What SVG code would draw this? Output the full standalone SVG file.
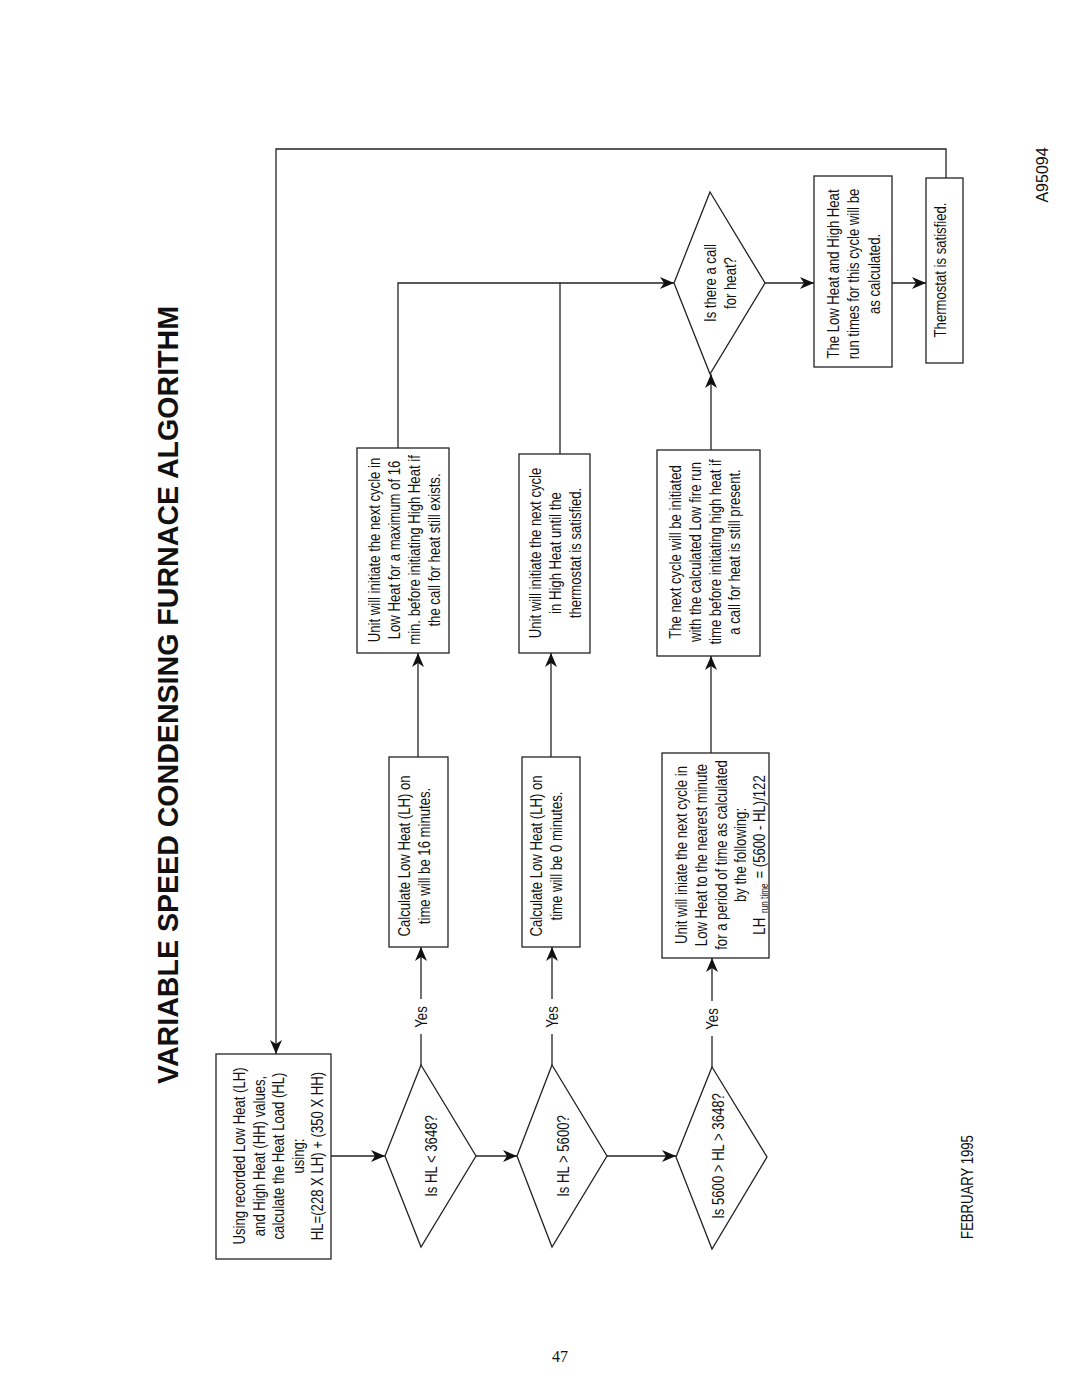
<svg xmlns="http://www.w3.org/2000/svg" width="1080" height="1397" viewBox="0 0 1080 1397">
<style>
.box{fill:#fff;stroke:#222;stroke-width:1.3}
.ln{fill:none;stroke:#222;stroke-width:1.3}
.t{font-family:"Liberation Sans",Arial,sans-serif;font-size:16px;fill:#111;text-anchor:middle}
.title{font-family:"Liberation Sans",Arial,sans-serif;font-size:30px;font-weight:bold;fill:#111;text-anchor:middle}
.pg{font-family:"Liberation Serif","Times New Roman",serif;font-size:16px;fill:#111;text-anchor:middle}
</style>
<defs>
<marker id="ah" markerUnits="userSpaceOnUse" markerWidth="14" markerHeight="12" refX="14" refY="6" orient="auto">
<path d="M0,0 L14,6 L0,12 L4,6 z" fill="#111"/>
</marker>
</defs>
<rect width="1080" height="1397" fill="#fff"/>

<text class="title" transform="translate(178,695) rotate(-90)" x="0" y="0" textLength="778" lengthAdjust="spacingAndGlyphs">VARIABLE SPEED CONDENSING FURNACE ALGORITHM</text>

<g id="connectors">
<polyline class="ln" points="946,178 946,149 276,149 276,1054" marker-end="url(#ah)"/>
<line class="ln" x1="331" y1="1156" x2="385" y2="1156" marker-end="url(#ah)"/>
<line class="ln" x1="476" y1="1156" x2="517" y2="1156" marker-end="url(#ah)"/>
<line class="ln" x1="607" y1="1156" x2="676" y2="1156" marker-end="url(#ah)"/>
<line class="ln" x1="421" y1="1065" x2="421" y2="1034"/>
<line class="ln" x1="421" y1="999" x2="421" y2="947" marker-end="url(#ah)"/>
<line class="ln" x1="552" y1="1065" x2="552" y2="1034"/>
<line class="ln" x1="552" y1="999" x2="552" y2="947" marker-end="url(#ah)"/>
<line class="ln" x1="712" y1="1067" x2="712" y2="1036"/>
<line class="ln" x1="712" y1="1001" x2="712" y2="958" marker-end="url(#ah)"/>
<line class="ln" x1="418" y1="757" x2="418" y2="653" marker-end="url(#ah)"/>
<line class="ln" x1="551" y1="757" x2="551" y2="653" marker-end="url(#ah)"/>
<line class="ln" x1="711" y1="753" x2="711" y2="656" marker-end="url(#ah)"/>
<polyline class="ln" points="398,448 398,283 674,283" marker-end="url(#ah)"/>
<line class="ln" x1="560" y1="454" x2="560" y2="283"/>
<line class="ln" x1="711" y1="450" x2="711" y2="374" marker-end="url(#ah)"/>
<line class="ln" x1="765" y1="283" x2="814" y2="283" marker-end="url(#ah)"/>
<line class="ln" x1="892" y1="283" x2="926" y2="283" marker-end="url(#ah)"/>
<text class="t" transform="translate(0,1017) rotate(-90) scale(0.82,1)" x="0" y="427">Yes</text>
<text class="t" transform="translate(0,1017) rotate(-90) scale(0.82,1)" x="0" y="558">Yes</text>
<text class="t" transform="translate(0,1019) rotate(-90) scale(0.82,1)" x="0" y="718">Yes</text>
</g>

<g id="n-start">
<rect class="box" x="216" y="1054" width="115" height="205"/>
<g transform="translate(0,1156) rotate(-90) scale(0.82,1)">
<text class="t" x="0" y="245.5">Using recorded Low Heat (LH)</text>
<text class="t" x="0" y="265">and High Heat (HH) values,</text>
<text class="t" x="0" y="284.5">calculate the Heat Load (HL)</text>
<text class="t" x="0" y="304">using:</text>
<text class="t" x="0" y="323.5">HL=(228 X LH) + (350 X HH)</text>
</g>
</g>

<g id="n-d1">
<polygon class="box" points="421,1065 476,1156 421,1247 385,1156"/>
<text class="t" transform="translate(0,1156) rotate(-90) scale(0.82,1)" x="0" y="437">Is HL &lt; 3648?</text>
</g>

<g id="n-d2">
<polygon class="box" points="552,1065 607,1156 552,1247 517,1156"/>
<text class="t" transform="translate(0,1156) rotate(-90) scale(0.82,1)" x="0" y="569">Is HL &gt; 5600?</text>
</g>

<g id="n-d3">
<polygon class="box" points="712,1067 767,1157 712,1249 676,1157"/>
<text class="t" transform="translate(0,1156) rotate(-90) scale(0.82,1)" x="0" y="724">Is 5600 &gt; HL &gt; 3648?</text>
</g>

<g id="n-calc16">
<rect class="box" x="389" y="757" width="59" height="190"/>
<g transform="translate(0,856) rotate(-90) scale(0.82,1)">
<text class="t" x="0" y="410.5">Calculate Low Heat (LH) on</text>
<text class="t" x="0" y="430.5">time will be 16 minutes.</text>
</g>
</g>

<g id="n-calc0">
<rect class="box" x="522" y="757" width="58" height="190"/>
<g transform="translate(0,856) rotate(-90) scale(0.82,1)">
<text class="t" x="0" y="542.5">Calculate Low Heat (LH) on</text>
<text class="t" x="0" y="562.5">time will be 0 minutes.</text>
</g>
</g>

<g id="n-calcrun">
<rect class="box" x="662" y="753" width="107" height="205"/>
<g transform="translate(0,855) rotate(-90) scale(0.82,1)">
<text class="t" x="0" y="687">Unit will iniate the next cycle in</text>
<text class="t" x="0" y="707">Low Heat to the nearest minute</text>
<text class="t" x="0" y="727">for a period of time as calculated</text>
<text class="t" x="0" y="746">by the following:</text>
<text class="t" x="0" y="765" font-size="17">LH<tspan font-size="10" dx="6" dy="3">run time</tspan><tspan dx="6" dy="-3">= (5600 - HL)/122</tspan></text>
</g>
</g>

<g id="n-low16">
<rect class="box" x="357" y="448" width="92" height="205"/>
<g transform="translate(0,550) rotate(-90) scale(0.82,1)">
<text class="t" x="0" y="380.5">Unit will initiate the next cycle in</text>
<text class="t" x="0" y="400">Low Heat for a maximum of 16</text>
<text class="t" x="0" y="420">min. before initiating High Heat if</text>
<text class="t" x="0" y="440">the call for heat still exists.</text>
</g>
</g>

<g id="n-high">
<rect class="box" x="519" y="454" width="71" height="199"/>
<g transform="translate(0,553) rotate(-90) scale(0.82,1)">
<text class="t" x="0" y="541">Unit will initiate the next cycle</text>
<text class="t" x="0" y="561">in High Heat until the</text>
<text class="t" x="0" y="581">thermostat is satisfied.</text>
</g>
</g>

<g id="n-next">
<rect class="box" x="657" y="450" width="103" height="206"/>
<g transform="translate(0,552) rotate(-90) scale(0.82,1)">
<text class="t" x="0" y="681.5">The next cycle will be initiated</text>
<text class="t" x="0" y="701">with the calculated Low fire run</text>
<text class="t" x="0" y="721">time before initiating high heat if</text>
<text class="t" x="0" y="740">a call for heat is still present.</text>
</g>
</g>

<g id="n-call">
<polygon class="box" points="710,192 765,283 710,374 674,283"/>
<g transform="translate(0,283) rotate(-90) scale(0.82,1)">
<text class="t" x="0" y="716">Is there a call</text>
<text class="t" x="0" y="736">for heat?</text>
</g>
</g>

<g id="n-runtimes">
<rect class="box" x="814" y="176" width="78" height="191"/>
<g transform="translate(0,274) rotate(-90) scale(0.82,1)">
<text class="t" x="0" y="839">The Low Heat and High Heat</text>
<text class="t" x="0" y="859.5">run times for this cycle will be</text>
<text class="t" x="0" y="880">as calculated.</text>
</g>
</g>

<g id="n-satisfied">
<rect class="box" x="926" y="178" width="37" height="185"/>
<text class="t" transform="translate(0,270) rotate(-90) scale(0.82,1)" x="0" y="946">Thermostat is satisfied.</text>
</g>

<text class="t" transform="translate(0,1187) rotate(-90) scale(0.82,1)" x="0" y="973">FEBRUARY 1995</text>
<text class="t" transform="translate(0,175) rotate(-90)" x="0" y="1048" font-size="14">A95094</text>
<text class="pg" x="560" y="1362">47</text>
</svg>
